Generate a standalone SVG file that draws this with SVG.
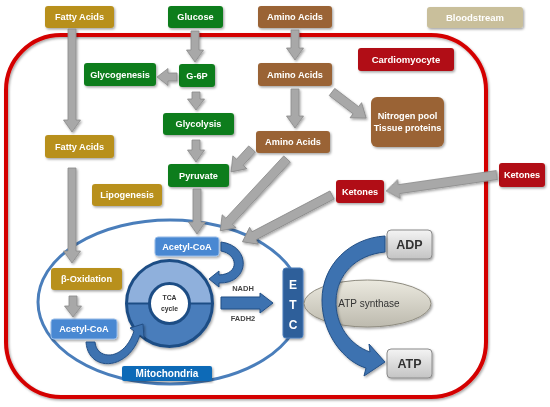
<svg xmlns="http://www.w3.org/2000/svg" width="550" height="407" viewBox="0 0 550 407">
<defs>
<filter id="sh" x="-20%" y="-20%" width="140%" height="140%"><feDropShadow dx="1.2" dy="1.5" stdDeviation="1" flood-color="#000" flood-opacity="0.35"/></filter>
<linearGradient id="gb" x1="0" y1="0" x2="0" y2="1"><stop offset="0" stop-color="#f4f4f4"/><stop offset="1" stop-color="#c4c4c4"/></linearGradient>
<linearGradient id="ge" x1="0" y1="0" x2="0" y2="1"><stop offset="0" stop-color="#ebe9df"/><stop offset="1" stop-color="#bdbaae"/></linearGradient>
<style>
text{font-family:"Liberation Sans",Arial,sans-serif;font-weight:bold;text-anchor:middle}
.t{font-size:9.2px;fill:#fff}
.gold{fill:#b8901c}
.green{fill:#0f7d1c}
.brown{fill:#9a6434}
.red{fill:#b10d12}
.lb{fill:#4a88d2;stroke:#95bbe8;stroke-width:1}
.ga{fill:#a8a8a8;stroke:#8a8a8a;stroke-width:0.8}
.ba{fill:#3d72b0;stroke:#234f85;stroke-width:1}
.dk{fill:#333}
</style>
</defs>
<rect width="550" height="407" fill="#fff"/>
<rect id="cell" x="6" y="35" width="480" height="362" rx="55" fill="none" stroke="#d40000" stroke-width="4" filter="url(#sh)"/>
<ellipse id="mito" cx="170" cy="302" rx="132" ry="82" fill="#fff" stroke="#4a7ebb" stroke-width="3"/>

<g id="n-fa1" filter="url(#sh)"><rect class="gold" x="45" y="6" width="69" height="22" rx="3"/><text class="t" x="79.5" y="20.3">Fatty Acids</text></g>
<g id="n-glucose" filter="url(#sh)"><rect class="green" x="168" y="6" width="55" height="22" rx="3"/><text class="t" x="195.5" y="20.3">Glucose</text></g>
<g id="n-aa1" filter="url(#sh)"><rect class="brown" x="258" y="6" width="74" height="22" rx="3"/><text class="t" x="295" y="20.3">Amino Acids</text></g>
<g id="n-blood" filter="url(#sh)"><rect fill="#c9bf9b" x="427" y="7" width="96" height="21" rx="3"/><text class="t" x="475" y="20.8" style="font-size:9.5px">Bloodstream</text></g>
<g id="n-glycogenesis" filter="url(#sh)"><rect class="green" x="84" y="63" width="72" height="23" rx="3"/><text class="t" x="120" y="77.8">Glycogenesis</text></g>
<g id="n-g6p" filter="url(#sh)"><rect class="green" x="179" y="64" width="36" height="23" rx="3"/><text class="t" x="197" y="78.8">G-6P</text></g>
<g id="n-aa2" filter="url(#sh)"><rect class="brown" x="258" y="63" width="74" height="23" rx="3"/><text class="t" x="295" y="77.8">Amino Acids</text></g>
<g id="n-cardio" filter="url(#sh)"><rect class="red" x="358" y="48" width="96" height="23" rx="3"/><text class="t" x="406" y="62.8" style="font-size:9.5px">Cardiomyocyte</text></g>
<g id="n-nitrogen" filter="url(#sh)"><rect class="brown" x="371" y="97" width="73" height="50" rx="6"/><text class="t" x="407.5" y="118.5">Nitrogen pool</text><text class="t" x="407.5" y="130.5">Tissue proteins</text></g>
<g id="n-glycolysis" filter="url(#sh)"><rect class="green" x="163" y="113" width="71" height="22" rx="3"/><text class="t" x="198.5" y="127.3">Glycolysis</text></g>
<g id="n-aa3" filter="url(#sh)"><rect class="brown" x="256" y="131" width="74" height="22" rx="3"/><text class="t" x="293" y="145.3">Amino Acids</text></g>
<g id="n-fa2" filter="url(#sh)"><rect class="gold" x="45" y="135" width="69" height="23" rx="3"/><text class="t" x="79.5" y="149.8">Fatty Acids</text></g>
<g id="n-pyruvate" filter="url(#sh)"><rect class="green" x="168" y="164" width="61" height="23" rx="3"/><text class="t" x="198.5" y="178.8">Pyruvate</text></g>
<g id="n-ket1" filter="url(#sh)"><rect class="red" x="499" y="163" width="46" height="24" rx="3"/><text class="t" x="522" y="178.3">Ketones</text></g>
<g id="n-ket2" filter="url(#sh)"><rect class="red" x="336" y="180" width="48" height="23" rx="3"/><text class="t" x="360" y="194.8">Ketones</text></g>
<g id="n-lipo" filter="url(#sh)"><rect class="gold" x="92" y="184" width="70" height="22" rx="3"/><text class="t" x="127" y="198.3">Lipogenesis</text></g>
<g id="n-acoa1" filter="url(#sh)"><rect class="lb" x="155" y="237" width="64" height="19" rx="3"/><text class="t" x="187" y="249.8">Acetyl-CoA</text></g>
<g id="n-box" filter="url(#sh)"><rect class="gold" x="51" y="268" width="71" height="22" rx="3"/><text class="t" x="86.5" y="282.3">β-Oxidation</text></g>
<g id="n-acoa2" filter="url(#sh)"><rect class="lb" x="51" y="319" width="66" height="20" rx="3"/><text class="t" x="84" y="332.3">Acetyl-CoA</text></g>
<g id="n-mitolabel" filter="url(#sh)"><rect fill="#0f6ab7" x="122" y="366" width="90" height="15" rx="2"/><text class="t" x="167" y="377.3" style="font-size:10px">Mitochondria</text></g>

<g id="n-tca" filter="url(#sh)">
<path d="M126.5,303.5 A43,43 0 0 1 212.5,303.5 Z" fill="#8fb0dc"/>
<path d="M126.5,303.5 A43,43 0 0 0 212.5,303.5 Z" fill="#4a7dbb"/>
<circle cx="169.5" cy="303.5" r="43" fill="none" stroke="#1f4e85" stroke-width="3"/>
<line x1="127" y1="303.5" x2="212" y2="303.5" stroke="#1f4e85" stroke-width="2"/>
<circle cx="169.5" cy="303.5" r="20" fill="#fff" stroke="#1f4e85" stroke-width="3"/>
<text class="dk" x="169.5" y="300" style="font-size:6.8px">TCA</text>
<text class="dk" x="169.5" y="311" style="font-size:6.8px">cycle</text>
</g>
<g id="n-etc" filter="url(#sh)"><rect x="283" y="268" width="20" height="70" rx="3" fill="#2f5f9a" stroke="#4a7ebb"/><text class="t" x="293" y="289" style="font-size:12px">E</text><text class="t" x="293" y="309" style="font-size:12px">T</text><text class="t" x="293" y="329" style="font-size:12px">C</text></g>
<g id="n-atps" filter="url(#sh)"><ellipse cx="367.5" cy="303.5" rx="63.5" ry="23.5" fill="url(#ge)" stroke="#8f8c80"/><text class="dk" x="369" y="307" style="font-size:10px;font-weight:normal">ATP synthase</text></g>
<g id="n-adp" filter="url(#sh)"><rect x="387" y="230" width="45" height="29" rx="4" fill="url(#gb)" stroke="#8a8a8a"/><text class="dk" x="409.5" y="249" style="font-size:12.5px">ADP</text></g>
<g id="n-atp" filter="url(#sh)"><rect x="387" y="349" width="45" height="29" rx="4" fill="url(#gb)" stroke="#8a8a8a"/><text class="dk" x="409.5" y="368" style="font-size:12.5px">ATP</text></g>

<g id="connectors" filter="url(#sh)">
<path class="ga" transform="translate(72,29) rotate(90)" d="M0,-4 H91 V-8.5 L103,0 L91,8.5 V4 H0 Z"/>
<path class="ga" transform="translate(72,168) rotate(90)" d="M0,-4 H83 V-8.5 L95,0 L83,8.5 V4 H0 Z"/>
<path class="ga" transform="translate(73,296) rotate(90)" d="M0,-4 H10 V-8.5 L21,0 L10,8.5 V4 H0 Z"/>
<path class="ga" transform="translate(195,31) rotate(90)" d="M0,-4 H19 V-8.5 L31,0 L19,8.5 V4 H0 Z"/>
<path class="ga" transform="translate(177,77) rotate(180)" d="M0,-4 H9 V-8.5 L20,0 L9,8.5 V4 H0 Z"/>
<path class="ga" transform="translate(196,92) rotate(90)" d="M0,-4 H7 V-8.5 L18,0 L7,8.5 V4 H0 Z"/>
<path class="ga" transform="translate(196,140) rotate(90)" d="M0,-4 H10 V-8.5 L22,0 L10,8.5 V4 H0 Z"/>
<path class="ga" transform="translate(197,189) rotate(90)" d="M0,-4 H33 V-8.5 L45,0 L33,8.5 V4 H0 Z"/>
<path class="ga" transform="translate(295,30) rotate(90)" d="M0,-4 H18 V-8.5 L30,0 L18,8.5 V4 H0 Z"/>
<path class="ga" transform="translate(295,89) rotate(90)" d="M0,-4 H27 V-8.5 L39,0 L27,8.5 V4 H0 Z"/>
<path class="ga" transform="translate(332,92) rotate(37.4)" d="M0,-4.5 H30 V-9.5 L43,0 L30,9.5 V4.5 H0 Z"/>
<path class="ga" transform="translate(252,149) rotate(132.4)" d="M0,-4.5 H18 V-9.5 L31,0 L18,9.5 V4.5 H0 Z"/>
<path class="ga" transform="translate(287,159) rotate(132.9)" d="M0,-4.5 H85 V-9.5 L98,0 L85,9.5 V4.5 H0 Z"/>
<path class="ga" transform="translate(332,195) rotate(152.4)" d="M0,-4.5 H88 V-9.5 L101,0 L88,9.5 V4.5 H0 Z"/>
<path class="ga" transform="translate(497,175) rotate(171.8)" d="M0,-4.5 H99 V-9.5 L112,0 L99,9.5 V4.5 H0 Z"/>
<path class="ba" d="M221,242 C252,246 250,284 219,283 L219,287 L209,279 L219,271 L219,275 C240,274 238,254 221,251 Z"/>
<path class="ba" d="M86,342 C88,372 128,372 140,335 L144,338 L143,324 L130,328 L134,331 C124,362 96,360 95,342 Z"/>
<path class="ba" d="M221,297 H260 V293 L273,303 L260,313 V309 H221 Z"/>
<path class="ba" d="M385,236 C350,238 322,265 322,300 C322,335 345,362 366,368 L364,376 L385,362 L369,344 L370,352 C350,345 335,325 336,300 C337,275 355,255 385,252 Z"/>
</g>
<text fill="#444" x="243" y="291" style="font-size:7.5px">NADH</text>
<text fill="#444" x="243" y="321" style="font-size:7.5px">FADH2</text>
</svg>
